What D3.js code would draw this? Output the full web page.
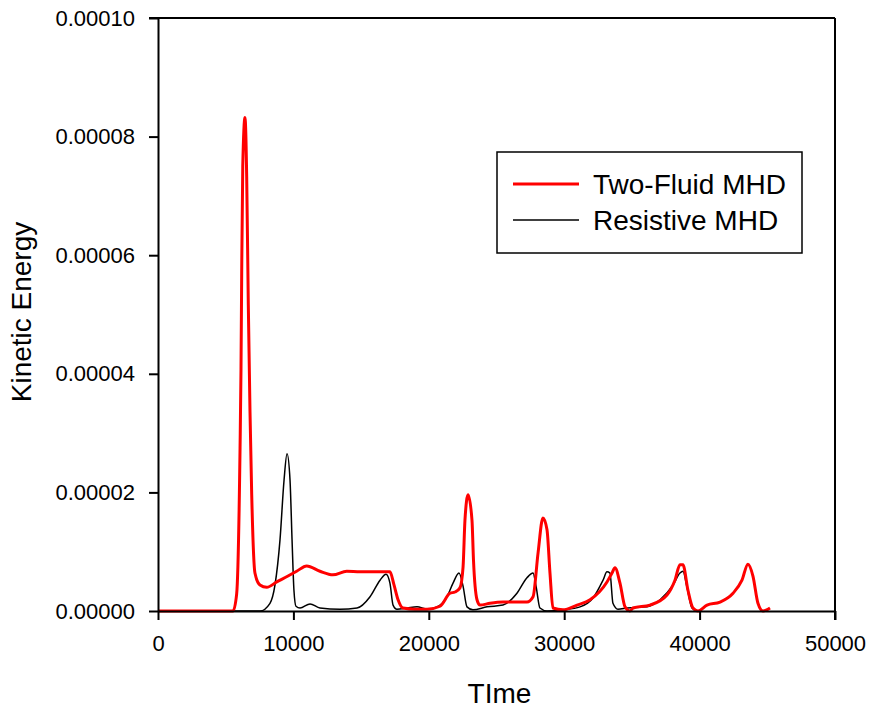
<!DOCTYPE html>
<html>
<head>
<meta charset="utf-8">
<script src="https://cdn.jsdelivr.net/npm/d3@7"></script>
<style>
  body { margin: 0; background: #fff; }
  text { font-family: "Liberation Sans", Arial, sans-serif; fill: #000; }
</style>
</head>
<body>
<div id="chart"></div>
<script>
'use strict';

// Two-Fluid MHD (time, kinetic energy)
const twoFluidTime = [0, 5540, 5810, 6060, 6130, 6180, 6260, 6425, 6550, 6670, 6795, 6920, 7160, 7530, 8030, 8770, 9600, 10240, 10980, 11960, 12920, 13940, 14920, 16030, 17130, 17430, 17730, 18090, 18980, 19870, 20830, 21570, 21930, 22300, 22530, 22670, 22900, 23190, 23300, 23560, 23780, 24520, 25480, 27250, 27700, 28070, 28430, 28730, 28950, 29170, 29910, 30950, 31910, 33160, 33530, 33750, 34120, 34490, 34860, 35080, 36340, 37590, 38180, 38550, 38770, 39140, 39510, 39880, 40550, 41510, 42470, 43130, 43570, 43940, 44310, 44680, 45200];
const twoFluidKE = [0, 0, 2.9e-6, 2.75e-5, 4.08e-5, 5.65e-5, 7.5e-5, 8.32e-5, 7.33e-5, 5.16e-5, 3.36e-5, 1.97e-5, 6.4e-6, 4.4e-6, 4.0e-6, 4.9e-6, 5.9e-6, 6.7e-6, 7.6e-6, 6.7e-6, 6.1e-6, 6.7e-6, 6.6e-6, 6.6e-6, 6.6e-6, 4.4e-6, 1.9e-6, 5e-7, 3e-7, 3e-7, 8e-7, 3.0e-6, 3.2e-6, 3.9e-6, 7.4e-6, 1.53e-5, 1.96e-5, 1.53e-5, 8.6e-6, 1.9e-6, 1.0e-6, 1.3e-6, 1.5e-6, 1.5e-6, 2.4e-6, 9.8e-6, 1.57e-5, 1.37e-5, 6.4e-6, 5e-7, 2e-7, 1.0e-6, 1.9e-6, 4.9e-6, 6.4e-6, 7.3e-6, 4.7e-6, 7e-7, 0, 5e-7, 1.0e-6, 2.7e-6, 5.2e-6, 7.8e-6, 7.8e-6, 3.5e-6, 5e-7, 0, 1.0e-6, 1.5e-6, 3.0e-6, 5.2e-6, 7.9e-6, 5.9e-6, 1.3e-6, 0, 5e-7];

// Resistive MHD
const resistiveTime = [0, 7530, 8270, 8640, 9010, 9310, 9530, 9750, 9900, 10040, 10190, 10490, 11230, 11960, 13440, 14700, 15660, 16400, 16840, 17130, 17360, 17650, 18390, 19130, 19870, 20610, 21340, 21790, 22230, 22530, 22820, 23260, 24300, 25480, 26510, 27250, 27700, 27920, 28210, 28730, 29910, 31170, 32130, 32870, 33160, 33380, 33600, 33970, 34640, 36120, 37080, 38040, 38550, 38770, 39070, 39440, 39810];
const resistiveKE = [0, 0, 1.3e-6, 4.4e-6, 1.2e-5, 2.21e-5, 2.65e-5, 2.21e-5, 1.2e-5, 3.5e-6, 8e-7, 5e-7, 1.2e-6, 5e-7, 3e-7, 5e-7, 2.4e-6, 5.2e-6, 6.2e-6, 4.7e-6, 1.0e-6, 3e-7, 5e-7, 7e-7, 3e-7, 7e-7, 2.4e-6, 4.7e-6, 6.4e-6, 4.2e-6, 7e-7, 2e-7, 7e-7, 1.0e-6, 3.0e-6, 5.6e-6, 6.4e-6, 4.2e-6, 5e-7, 0, 2e-7, 7e-7, 2.2e-6, 5.2e-6, 6.6e-6, 6.4e-6, 1.3e-6, 3e-7, 5e-7, 7e-7, 1.9e-6, 4.4e-6, 6.4e-6, 6.7e-6, 4.0e-6, 5e-7, 0];

const xTicks = [0, 10000, 20000, 30000, 40000, 50000];
const yTicks = [0, 0.00002, 0.00004, 0.00006, 0.00008, 0.0001];
const seriesNames = ["Two-Fluid MHD", "Resistive MHD"];

const margin = { top: 18, right: 34, bottom: 100, left: 158 };
const totalW = 869, totalH = 711;
const width = totalW - margin.left - margin.right;
const height = totalH - margin.top - margin.bottom;

const svg = d3.select("#chart")
    .append("svg")
    .attr("width", totalW)
    .attr("height", totalH)
    .append("g")
    .attr("transform", `translate(${margin.left},${margin.top})`);

const x = d3.scaleLinear().domain([0, 50000]).range([0, width]);
const y = d3.scaleLinear().domain([0, 0.0001]).range([height, 0]);

// lines
const line = d3.line()
    .x(d => x(d[0]))
    .y(d => y(d[1]))
    .curve(d3.curveMonotoneX);

const resistive = resistiveTime.map((t, i) => [t, resistiveKE[i]]);
const twoFluid = twoFluidTime.map((t, i) => [t, twoFluidKE[i]]);

svg.append("path")
    .datum(resistive)
    .attr("fill", "none")
    .attr("stroke", "#000")
    .attr("stroke-width", 1.5)
    .attr("d", line);

svg.append("path")
    .datum(twoFluid)
    .attr("fill", "none")
    .attr("stroke", "#ff0000")
    .attr("stroke-width", 3)
    .attr("stroke-linejoin", "round")
    .attr("d", line);

// frame (top and right)
svg.append("line")
    .attr("x1", -9).attr("x2", width).attr("y1", 0).attr("y2", 0)
    .attr("stroke", "#000").attr("stroke-width", 2);
svg.append("line")
    .attr("x1", width).attr("x2", width).attr("y1", 0).attr("y2", height + 9)
    .attr("stroke", "#000").attr("stroke-width", 2);

// axes
const xAxis = svg.append("g")
    .attr("transform", `translate(0,${height})`)
    .call(d3.axisBottom(x).tickValues(xTicks).tickFormat(d3.format("d")).tickSize(9).tickSizeOuter(0).tickPadding(15));

const yAxis = svg.append("g")
    .call(d3.axisLeft(y).tickValues(yTicks).tickFormat(d3.format(".5f")).tickSize(9).tickSizeOuter(0).tickPadding(14));

[xAxis, yAxis].forEach(a => {
    a.select(".domain").attr("stroke", "#000").attr("stroke-width", 2);
    a.selectAll(".tick line").attr("stroke", "#000").attr("stroke-width", 2);
    a.selectAll(".tick text")
        .style("font-family", "'Liberation Sans', Arial, sans-serif")
        .style("font-size", "22px")
        .attr("fill", "#000");
});

// axis titles
svg.append("text")
    .attr("x", width / 2 + 3)
    .attr("y", height + 92)
    .attr("text-anchor", "middle")
    .style("font-size", "28px")
    .text("TIme");

svg.append("text")
    .attr("transform", "rotate(-90)")
    .attr("x", -294)
    .attr("y", -127)
    .attr("text-anchor", "middle")
    .style("font-size", "28px")
    .text("Kinetic Energy");

// legend
const legend = svg.append("g")
    .attr("transform", `translate(${497 - margin.left},${152 - margin.top})`);

legend.append("rect")
    .attr("width", 305)
    .attr("height", 101)
    .attr("fill", "#fff")
    .attr("stroke", "#000")
    .attr("stroke-width", 1.5);

const legendColors = ["#ff0000", "#000"];
const legendWidths = [3, 1.5];

seriesNames.forEach((name, i) => {
    const g = legend.append("g").attr("transform", `translate(0,${32 + i * 36})`);
    g.append("line")
        .attr("x1", 16).attr("x2", 82)
        .attr("stroke", legendColors[i])
        .attr("stroke-width", legendWidths[i]);
    g.append("text")
        .attr("x", 96)
        .attr("dy", "0.36em")
        .style("font-size", "28px")
        .text(name);
});
</script>
</body>
</html>
